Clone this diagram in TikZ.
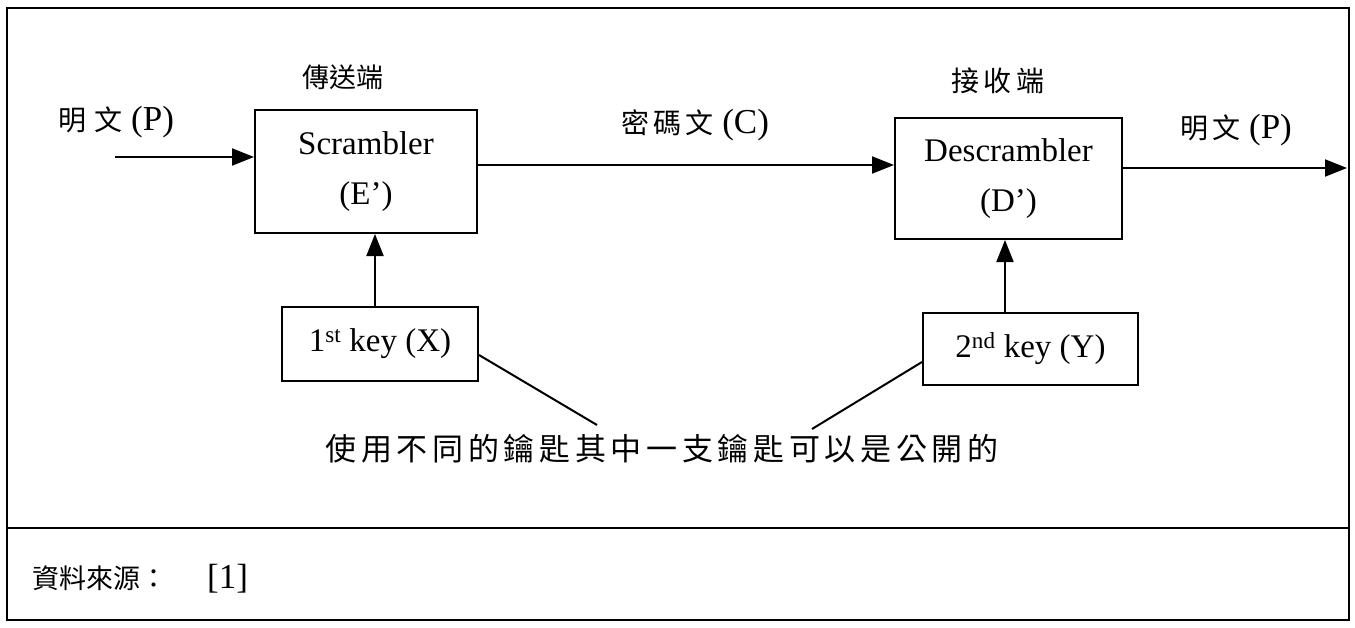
\documentclass[tikz,border=0pt]{standalone}
\usepackage{fontspec}
\setmainfont{Liberation Serif}
\newfontfamily\cjk[LetterSpace=15]{Noto Sans CJK TC}
\newfontfamily\cjkw[LetterSpace=30]{Noto Sans CJK TC}
\newfontfamily\cjkn{Noto Sans CJK TC}
\usetikzlibrary{arrows.meta}
\tikzset{
  ln/.style={line width=2pt, black},
  arr/.style={ln, -{Triangle[length=22pt,width=17pt]}},
  box/.style={draw, line width=2pt, inner sep=0pt, align=center, font=\fontsize{33}{50}\selectfont},
  lab/.style={inner sep=0pt, font=\fontsize{35}{40}\selectfont},
}
\newcommand\zhs[1]{{\fontsize{28}{34}\selectfont\cjk #1}}
\newcommand\zhw[1]{{\fontsize{28}{34}\selectfont\cjkw #1}}
\newcommand\zhn[1]{{\fontsize{27}{34}\selectfont\cjkn #1}}
\begin{document}
\begin{tikzpicture}[x=1pt,y=-1pt]
\useasboundingbox (0,0) rectangle (1355,627);
% frame
\draw[ln] (7,8) rectangle (1349,620);
\coordinate (dl) at (7,528);
\coordinate (dr) at (1349,528);
\draw[ln] (dl) -- (dr);
% boxes
\node[box, minimum width=222pt, minimum height=123pt] (scr) at (366,171.5) {Scrambler\\(E’)};
\node[box, minimum width=196pt, minimum height=74pt] (k1) at (380,344) {1\textsuperscript{st} key (X)};
\node[box, minimum width=227pt, minimum height=121pt] (dsc) at (1008.5,178.5) {Descrambler\\(D’)};
\node[box, minimum width=215pt, minimum height=72pt] (k2) at (1030.5,349) {2\textsuperscript{nd} key (Y)};
% labels
\node[lab] (snd) at (343,77) {\zhn{傳送端}};
\node[lab] (pin) at (116,122) {\zhw{明文} (P)};
\node[lab] (ctx) at (695,125) {\zhs{密碼文} (C)};
\node[lab] (rcv) at (998,81) {\zhs{接收端}};
\node[lab] (pout) at (1236,130) {\zhs{明文} (P)};
\node[lab] (note) at (662,449) {{\fontsize{31}{36}\selectfont\cjk 使用不同的鑰匙其中一支鑰匙可以是公開的}};
\node[lab, anchor=base west] (src) at (32,588) {\zhn{資料來源：}\hspace{40pt}[1]};
% connectors
\coordinate (inS) at (115,157);
\draw[arr] (inS) -- (inS -| scr.west);
\coordinate (cS) at (477,165);
\draw[arr] (scr.east |- cS) -- (cS -| dsc.west);
\coordinate (oE) at (1347,168);
\draw[arr] (dsc.east |- oE) -- (oE);
\draw[arr] (k1.north -| 375,0) -- (scr.south -| 375,0);
\draw[arr] (k2.north -| 1005,0) -- (dsc.south -| 1005,0);
\coordinate (n1) at (597,425);
\coordinate (n2) at (812,429);
\draw[ln] (k1.east |- 0,355) -- (n1);
\draw[ln] (k2.west |- 0,362) -- (n2);
\end{tikzpicture}
\end{document}
